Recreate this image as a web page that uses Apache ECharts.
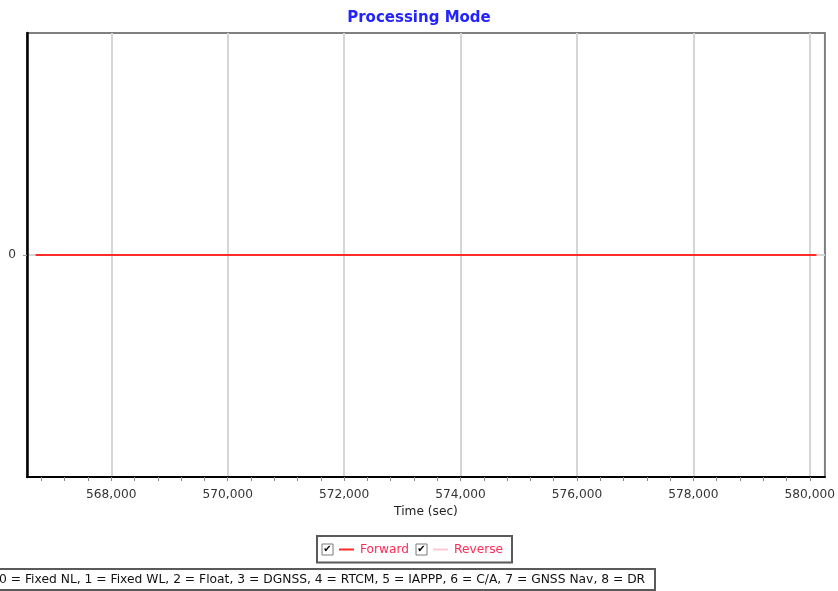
<!DOCTYPE html>
<html>
<head>
<meta charset="utf-8">
<script src="https://cdn.jsdelivr.net/npm/echarts@6/dist/echarts.min.js"></script>
<style>
  html, body { margin: 0; padding: 0; background: #fff; }
  #chart { width: 838px; height: 591px; }
</style>
</head>
<body>
<div id="chart"></div>
<script>
// ---- data ----
const seriesNames = ['Forward', 'Reverse'];
const forwardTime = [566700, 580115];   // sec
const forwardMode = [0, 0];             // processing mode
const reverseTime = [];
const reverseMode = [];
const xMajorTicks = [568000, 570000, 572000, 574000, 576000, 578000, 580000];
const xMinorStep = 400;
const yTicks = [0];
const xRange = [566552, 580260];
const yRange = [-1, 1];
const modeLegendText = '0 = Fixed NL, 1 = Fixed WL, 2 = Float, 3 = DGNSS, 4 = RTCM, 5 = IAPPP, 6 = C/A, 7 = GNSS Nav, 8 = DR';

const xMinorTicks = [];
for (let v = Math.ceil(xRange[0] / xMinorStep) * xMinorStep; v <= xRange[1]; v += xMinorStep) xMinorTicks.push(v);

const FONT = 'DejaVu Sans';
const lineColors = { Forward: '#ff2b2b', Reverse: '#ffc9d2' };

const chart = echarts.init(document.getElementById('chart'), null, { renderer: 'canvas' });
chart.setOption({
  animation: false,
  backgroundColor: '#ffffff',
  title: [
    {
      text: 'Processing Mode',
      left: 'center',
      top: 11,
      padding: 0,
      textStyle: { fontFamily: FONT, fontSize: 15, fontWeight: 'bold', color: '#2323ff' }
    },
    {
      text: modeLegendText,
      left: -12,
      top: 569,
      padding: [3, 10, 3, 11],
      borderColor: '#5a5a5a',
      borderWidth: 2,
      textStyle: { fontFamily: FONT, fontSize: 12.3, fontWeight: 'normal', color: '#111', lineHeight: 15 }
    }
  ],
  legend: {
    data: seriesNames,
    left: 317,
    top: 536,
    icon: 'none',
    itemWidth: 0,
    itemHeight: 13,
    itemGap: 2,
    padding: [7, 9, 7, 0],
    borderColor: '#5a5a5a',
    borderWidth: 2,
    formatter: function (name) {
      return '{cb|✔}{g| }{ln' + name + '| }{g| }' + name;
    },
    textStyle: {
      fontFamily: FONT,
      fontSize: 12.2,
      color: '#ff2a55',
      rich: {
        cb: { width: 11, height: 11, borderColor: '#7a7a7a', borderWidth: 1, align: 'center', verticalAlign: 'middle', fontSize: 10, lineHeight: 11, color: '#000', fontFamily: FONT },
        g: { width: 6, fontSize: 12 },
        lnForward: { width: 15, height: 2, backgroundColor: lineColors.Forward, fontSize: 2 },
        lnReverse: { width: 15, height: 2, backgroundColor: lineColors.Reverse, fontSize: 2 }
      }
    },
    selectedMode: false
  },
  grid: {
    left: 27, right: 12, top: 33, bottom: 114,
    show: true, borderColor: '#808080', borderWidth: 2, backgroundColor: 'transparent'
  },
  xAxis: [
    {
      type: 'value',
      min: xRange[0], max: xRange[1],
      position: 'bottom',
      name: 'Time (sec)',
      nameLocation: 'middle',
      nameGap: 24,
      nameTextStyle: { fontFamily: FONT, fontSize: 12.2, color: '#222' },
      axisLine: { show: true, onZero: false, lineStyle: { color: '#000', width: 2 } },
      axisTick: { show: true, customValues: xMinorTicks, length: 4, lineStyle: { color: '#888', width: 1 } },
      axisLabel: {
        customValues: xMajorTicks, margin: 12,
        fontFamily: FONT, fontSize: 12.2, color: '#333',
        formatter: v => Number(v).toLocaleString('en-US')
      },
      splitLine: { show: false }
    },
    {
      type: 'value',
      min: xRange[0], max: xRange[1],
      position: 'top',
      axisLine: { show: false },
      axisTick: { show: false, customValues: xMajorTicks },
      axisLabel: { show: false, customValues: xMajorTicks },
      splitLine: { show: true, lineStyle: { color: '#d6d6d6', width: 2 } }
    }
  ],
  yAxis: {
    type: 'value',
    min: yRange[0], max: yRange[1],
    axisLine: { show: true, onZero: false, lineStyle: { color: '#000', width: 2.5 } },
    axisTick: { show: true, customValues: yTicks, length: 4, lineStyle: { color: '#999' } },
    axisLabel: { customValues: yTicks, margin: 11, fontFamily: FONT, fontSize: 12.2, color: '#333' },
    splitLine: { show: true, lineStyle: { color: '#d6d6d6', width: 2 } }
  },
  series: [
    {
      name: 'Reverse', type: 'line', xAxisIndex: 0,
      data: reverseTime.map((t, i) => [t, reverseMode[i]]),
      showSymbol: false, color: lineColors.Reverse,
      lineStyle: { width: 2, color: lineColors.Reverse }
    },
    {
      name: 'Forward', type: 'line', xAxisIndex: 0,
      data: forwardTime.map((t, i) => [t, forwardMode[i]]),
      showSymbol: false, color: lineColors.Forward,
      lineStyle: { width: 2, color: lineColors.Forward }
    }
  ]
});
</script>
</body>
</html>
